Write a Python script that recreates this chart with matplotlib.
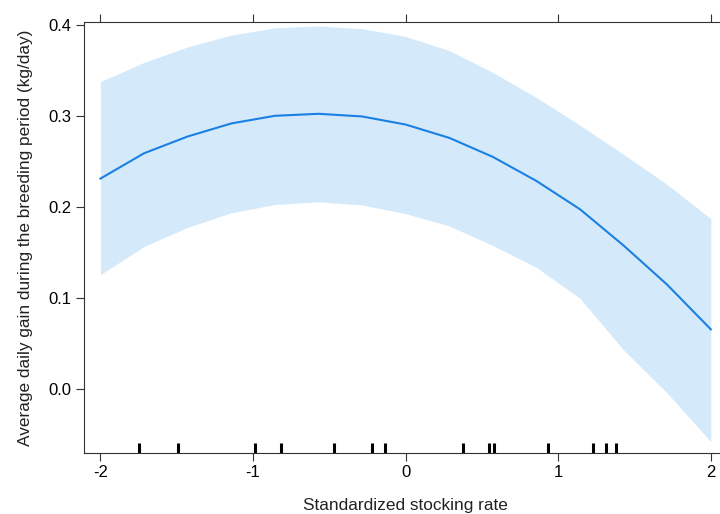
import matplotlib
matplotlib.use('Agg')
import matplotlib.pyplot as plt
import numpy as np

plt.rcParams['font.family'] = ['Liberation Sans', 'DejaVu Sans']

# effect of standardized stocking rate
x = np.linspace(-2, 2, 15)
fit = [0.2315, 0.2593, 0.2777, 0.2920, 0.3004, 0.3026, 0.2997, 0.2908,
       0.2762, 0.2553, 0.2289, 0.1978, 0.1580, 0.1150, 0.0660]
upper = [0.338, 0.359, 0.376, 0.389, 0.397, 0.399, 0.396, 0.3875,
         0.372, 0.348, 0.3205, 0.290, 0.258, 0.225, 0.1875]
lower = [0.126, 0.157, 0.178, 0.194, 0.203, 0.206, 0.2025, 0.193,
         0.1795, 0.158, 0.134, 0.100, 0.0434, -0.004, -0.0573]
# observed stocking rates (rug)
rug = [-1.746, -1.492, -0.985, -0.814, -0.472, -0.218, -0.135,
       0.373, 0.544, 0.576, 0.931, 1.228, 1.311, 1.377]

fig = plt.figure(figsize=(7.2, 5.14), dpi=100)
ax = fig.add_axes([0.1171, 0.1187, 0.8926, 0.8391])

ax.fill_between(x, lower, upper, color='#d4eafb', linewidth=0)
ax.plot(x, fit, color='#1a80e3', linewidth=1.5)
ax.vlines(rug, 0, 0.0232, transform=ax.get_xaxis_transform(),
          color='black', linewidth=2.2)

ax.set_xlim(-2.106, 2.106)
ax.set_ylim(-0.0697, 0.4037)
ax.set_xticks([-2, -1, 0, 1, 2])
ax.set_xticklabels(['-2', '-1', '0', '1', '2'])
ax.set_yticks([0.0, 0.1, 0.2, 0.3, 0.4])
ax.set_yticklabels(['0.0', '0.1', '0.2', '0.3', '0.4'])
ax.tick_params(axis='x', which='both', top=True, bottom=True, direction='out',
               length=5.8, width=0.8, labelsize=12, color='#333333', pad=3)
ax.tick_params(axis='y', which='both', left=True, right=False, direction='out',
               length=5.5, width=0.8, labelsize=12, color='#333333', pad=4)
for s in ax.spines.values():
    s.set_color('#333333')
    s.set_linewidth(0.8)

ax.set_xlabel('Standardized stocking rate', fontsize=12.4, labelpad=13, color='#222222')
ax.set_ylabel('Average daily gain during the breeding period (kg/day)',
              fontsize=12.4, labelpad=11, color='#222222')

fig.savefig('out.png', dpi=100)
